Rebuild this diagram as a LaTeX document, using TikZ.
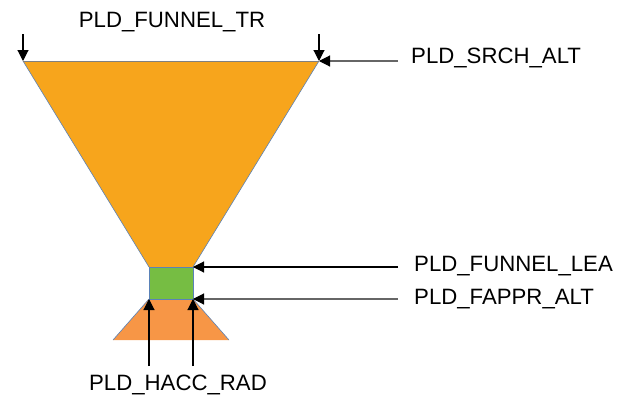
\documentclass[tikz,border=0pt]{standalone}
\usepackage{fontspec}
\setmainfont{Liberation Sans}
\usetikzlibrary{arrows.meta}
\definecolor{funnelc}{HTML}{F7A51C}
\definecolor{greenc}{HTML}{76BD43}
\definecolor{lowc}{HTML}{F79646}
\definecolor{edgec}{HTML}{5A82B8}
\tikzset{
  lbl/.style={font=\fontsize{22.2}{26}\selectfont, inner sep=0pt},
  arr/.style={line width=1.1pt, -{Triangle[length=11pt,width=11pt,color=black]}},
  shp/.style={draw=edgec, line width=0.6pt}
}
\begin{document}
\begin{tikzpicture}[x=1pt,y=-1pt]
\useasboundingbox (0,0) rectangle (630,413);
% corners
\coordinate (tl) at (23,61);
\coordinate (tr) at (319,61);
\coordinate (ml) at (149,267);
\coordinate (mr) at (193,267);
\coordinate (bl) at (149,299);
\coordinate (br) at (193,299);
\coordinate (ll) at (113,340);
\coordinate (lr) at (229,340);
% shapes
\fill[funnelc] (tl) -- (tr) -- (mr) -- (ml) -- cycle;
\draw[shp] (tr) -- (mr) (ml) -- (tl);
\draw[gray, line width=1pt] (tl) -- (tr);
\fill[lowc] (bl) -- (br) -- (lr) -- (ll) -- cycle;
\draw[shp] (bl) -- (ll) (br) -- (lr);
\filldraw[fill=greenc, shp] (ml) rectangle (br);
% labels
\node[lbl] (ftr) at (172,22) {PLD\_FUNNEL\_TR};
\node[lbl, anchor=west] (srch) at (411,58) {PLD\_SRCH\_ALT};
\node[lbl, anchor=west] (lea) at (414,266) {PLD\_FUNNEL\_LEA};
\node[lbl, anchor=west] (fappr) at (414,299) {PLD\_FAPPR\_ALT};
\node[lbl] (hacc) at (178,385) {PLD\_HACC\_RAD};
% arrow start points
\coordinate (s1) at (23,34);
\coordinate (s2) at (319,34);
\coordinate (s3) at (398,61);
\coordinate (s4) at (398,267);
\coordinate (s5) at (398,299);
\coordinate (s6) at (149,366);
\coordinate (s7) at (193,366);
% arrows
\draw[arr] (s1) -- (tl);
\draw[arr] (s2) -- (tr);
\draw[arr, draw=gray!80!black] (s3) -- (tr);
\draw[arr] (s4) -- (mr);
\draw[arr, draw=gray!80!black] (s5) -- (br);
\draw[arr] (s6) -- (bl);
\draw[arr] (s7) -- (br);
\end{tikzpicture}
\end{document}
